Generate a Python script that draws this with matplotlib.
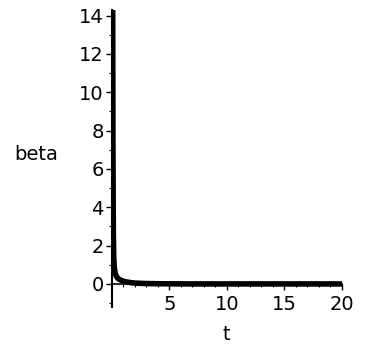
import matplotlib
matplotlib.use("Agg")
import matplotlib.pyplot as plt
from matplotlib.ticker import MultipleLocator

# values
t = [0.06, 0.08, 0.1, 0.12, 0.15, 0.2, 0.3, 0.45, 0.6, 0.8, 1.0, 1.3, 1.6,
     2.0, 2.5, 3.0, 4.0, 5.0, 7.0, 10.0, 15.0, 20.0]
beta = [14.5, 8.0, 4.5, 2.5, 1.4, 0.85, 0.5, 0.33, 0.25, 0.19, 0.14, 0.1, 0.07,
        0.045, 0.03, 0.02, 0.01, 0.005, 0.0, 0.0, 0.0, 0.0]
xticks = [5, 10, 15, 20]
yticks = [0, 2, 4, 6, 8, 10, 12, 14]

fig = plt.figure(figsize=(3.66, 3.54), dpi=100)
ax = fig.add_axes([0.306, 0.133, 0.628, 0.839])

ax.plot(t, beta, color="black", linewidth=4, solid_joinstyle="round")

ax.set_xlim(0, 20)
ax.set_ylim(-1.2, 14.3)

ax.spines["left"].set_position(("data", 0))
ax.spines["bottom"].set_position(("data", 0))
ax.spines["top"].set_visible(False)
ax.spines["right"].set_visible(False)
ax.spines["left"].set_linewidth(1.5)
ax.spines["bottom"].set_linewidth(1.2)

ax.set_xticks(xticks)
ax.set_yticks(yticks)
ax.xaxis.set_minor_locator(MultipleLocator(1))
ax.yaxis.set_minor_locator(MultipleLocator(1))
ax.tick_params(which="major", direction="out", length=4, width=1, labelsize=14, pad=2)
ax.tick_params(axis="x", which="major", pad=4)
ax.tick_params(which="minor", direction="out", length=2, width=0.8)

fig.text(36 / 366, 1 - 155 / 354, "beta", fontsize=14, ha="center", va="center")
fig.text(226 / 366, 1 - 334 / 354, "t", fontsize=14, ha="center", va="center")

fig.savefig("out.png", dpi=100)
